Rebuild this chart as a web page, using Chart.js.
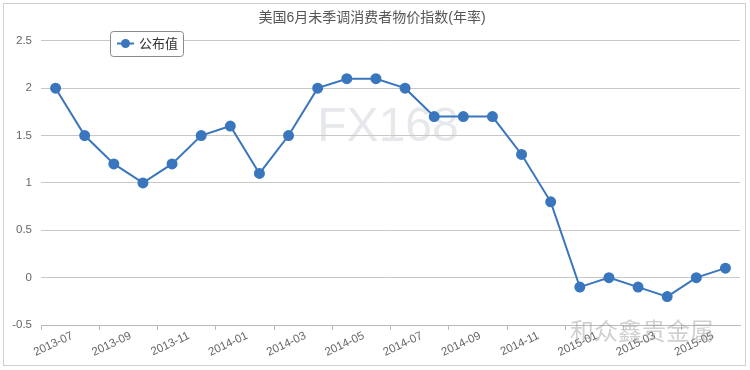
<!DOCTYPE html>
<html><head><meta charset="utf-8">
<script src="https://cdn.jsdelivr.net/npm/chart.js@4/dist/chart.umd.min.js"></script>
<style>html,body{margin:0;padding:0;background:#fff;}#wrap{width:750px;height:370px;}</style>
</head><body><div id="wrap"><canvas id="c" width="750" height="370"></canvas></div>
<script>
const months = ["2013-07","2013-08","2013-09","2013-10","2013-11","2013-12","2014-01","2014-02","2014-03","2014-04","2014-05","2014-06","2014-07","2014-08","2014-09","2014-10","2014-11","2014-12","2015-01","2015-02","2015-03","2015-04","2015-05","2015-06"];
const published = [2.0,1.5,1.2,1.0,1.2,1.5,1.6,1.1,1.5,2.0,2.1,2.1,2.0,1.7,1.7,1.7,1.3,0.8,-0.1,0.0,-0.1,-0.2,0.0,0.1];
const seriesName = "公布值";
const titleText = "美国6月未季调消费者物价指数(年率)";
const FONT = "'Liberation Sans','Noto Sans CJK SC',sans-serif";
const BLUE = '#3a76bd';

const decor = {
  id: 'decor',
  beforeDraw(chart) {
    const ctx = chart.ctx;
    ctx.save();
    ctx.fillStyle = '#fff';
    ctx.fillRect(0,0,chart.width,chart.height);
    ctx.strokeStyle = '#d0d0d0';
    ctx.lineWidth = 1;
    ctx.strokeRect(3.5,3.5,742,362);
    ctx.fillStyle = '#e6e8ec';
    ctx.font = "48px 'Liberation Sans',sans-serif";
    ctx.textAlign = 'center';
    ctx.textBaseline = 'middle';
    ctx.fillText('FX168', 388, 128);
    ctx.restore();
  },
  afterDraw(chart) {
    const ctx = chart.ctx;
    ctx.save();
    const x = 110.5, y = 31.5, w = 73, h = 25, r = 3;
    ctx.beginPath();
    ctx.moveTo(x+r,y); ctx.lineTo(x+w-r,y); ctx.arcTo(x+w,y,x+w,y+r,r);
    ctx.lineTo(x+w,y+h-r); ctx.arcTo(x+w,y+h,x+w-r,y+h,r);
    ctx.lineTo(x+r,y+h); ctx.arcTo(x,y+h,x,y+h-r,r);
    ctx.lineTo(x,y+r); ctx.arcTo(x,y,x+r,y,r); ctx.closePath();
    ctx.fillStyle = '#fff'; ctx.fill();
    ctx.strokeStyle = '#8a8a8a'; ctx.lineWidth = 1; ctx.stroke();
    ctx.strokeStyle = BLUE; ctx.lineWidth = 2;
    ctx.beginPath(); ctx.moveTo(117,43.5); ctx.lineTo(134,43.5); ctx.stroke();
    ctx.fillStyle = BLUE; ctx.beginPath(); ctx.arc(125.5,43.5,4.5,0,Math.PI*2); ctx.fill();
    ctx.fillStyle = '#333'; ctx.font = "13px " + FONT;
    ctx.textAlign = 'left'; ctx.textBaseline = 'middle';
    ctx.fillText(chart.data.datasets[0].label, 139, 44);
    ctx.fillStyle = 'rgba(150,150,150,0.45)';
    ctx.font = "24px 'Noto Sans CJK SC',sans-serif";
    ctx.fillText('和众鑫贵金属', 570, 331);
    ctx.restore();
  }
};

new Chart(document.getElementById('c'), {
  type: 'line',
  data: {
    labels: months,
    datasets: [{
      label: seriesName,
      data: published,
      borderColor: BLUE,
      backgroundColor: BLUE,
      pointBackgroundColor: BLUE,
      pointBorderColor: BLUE,
      pointRadius: 4.5,
      borderWidth: 2,
      tension: 0,
      fill: false
    }]
  },
  options: {
    responsive: false,
    animation: false,
    devicePixelRatio: 1,
    layout: { padding: { top: 6, left: 4, right: 10, bottom: 4 } },
    plugins: {
      legend: { display: false },
      tooltip: { enabled: false },
      title: {
        display: true, text: titleText, color: '#555',
        font: { family: FONT, size: 14, weight: 'normal' },
        padding: { top: 4, bottom: 14 }
      }
    },
    scales: {
      x: {
        offset: true,
        grid: {
          offset: true, drawOnChartArea: false, drawTicks: true, tickLength: 5,
          color: (c) => (c.index % 2 === 0 ? '#bbb' : 'rgba(0,0,0,0)')
        },
        border: { display: true, color: '#bbb' },
        ticks: {
          autoSkip: false, minRotation: 25, maxRotation: 25, labelOffset: 17, padding: -1,
          color: '#666', font: { family: FONT, size: 11.5 },
          callback: function(v, i) { return i % 2 === 0 ? this.getLabelForValue(v) : ''; }
        },
        afterFit: (s) => { s.height = 41; }
      },
      y: {
        min: -0.5, max: 2.5,
        ticks: { stepSize: 0.5, color: '#666', font: { family: FONT, size: 11.5 }, padding: 9,
          callback: (v) => String(Math.round(v * 10) / 10) },
        grid: { color: '#c8c8c8', drawTicks: false },
        border: { display: false },
        afterFit: (s) => { s.width = 37; }
      }
    }
  },
  plugins: [decor]
});
</script>
</body></html>
